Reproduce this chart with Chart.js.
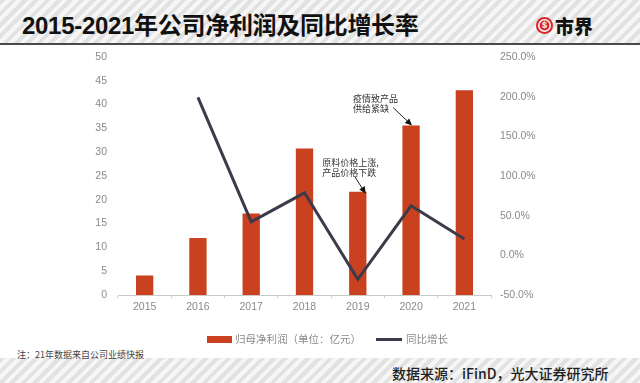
<!DOCTYPE html>
<html><head><meta charset="utf-8">
<script src="https://cdn.jsdelivr.net/npm/chart.js@4/dist/chart.umd.min.js"></script>
<style>
html,body{margin:0;padding:0;background:#fff;}
#wrap{position:relative;width:640px;height:383px;overflow:hidden;background:#fff;font-family:"Noto Sans CJK SC","Liberation Sans",sans-serif;}
.stripe{position:absolute;left:0;width:640px;background:repeating-linear-gradient(135deg,#e2e2e2 0px,#e2e2e2 4px,#f6f6f6 4px,#f6f6f6 8px);}
#hdr{top:0;height:43px;border-bottom:2px solid #4a4a4a;}
#ftr{top:358px;height:25px;}
#title{position:absolute;left:22px;top:8px;font-size:24px;font-weight:bold;color:#111;white-space:nowrap;line-height:32px;font-family:"Liberation Sans","Noto Sans CJK SC",sans-serif;letter-spacing:-0.3px;}
#title span{font-family:"Noto Sans CJK SC",sans-serif;}
#logo{position:absolute;left:536px;top:17px;width:17px;height:17px;border-radius:50%;background:#d8262c;box-shadow:inset 0 0 0 2px #d8262c, inset 0 0 0 3.5px #fff;color:#fff;font:bold 9px "Liberation Sans",sans-serif;text-align:center;line-height:17px;}
#logotxt{position:absolute;left:555px;top:12px;font-size:19px;font-weight:900;color:#111;line-height:28px;font-family:"Noto Sans CJK SC",sans-serif;}
#note{position:absolute;left:17px;top:348px;font-size:9px;color:#444;white-space:nowrap;line-height:14px;}
#src{position:absolute;left:392px;top:363px;font-size:14px;font-weight:500;color:#1e1e1e;white-space:nowrap;line-height:20px;}
canvas{position:absolute;left:0;top:0;}
</style></head>
<body>
<div id="wrap">
<div id="hdr" class="stripe"></div>
<div id="ftr" class="stripe"></div>
<div id="title">2015-2021<span>年公司净利润及同比增长率</span></div>
<div id="logo">$</div>
<div id="logotxt">市界</div>
<div id="note">注：21年数据来自公司业绩快报</div>
<div id="src">数据来源：iFinD，光大证券研究所</div>
<canvas id="c" width="640" height="383"></canvas>
</div>
<script>
const categories = ['2015','2016','2017','2018','2019','2020','2021'];
const netProfit = [4.1, 12.0, 17.1, 30.8, 21.7, 35.6, 43.0];
const yoyGrowth = [null, 199.0, 42.3, 78.8, -30.2, 62.5, 20.5];
const leftTicks = [0,5,10,15,20,25,30,35,40,45,50];
const rightTicks = [-50,0,50,100,150,200,250];
const barLabel = '归母净利润（单位：亿元）';
const lineLabel = '同比增长';
const noteA = ['疫情致产品','供给紧缺'];
const noteB = ['原料价格上涨,','产品价格下跌'];

const BAR = '#c9411e', LINE = '#3e3a4a';

function arrow(ctx, x0, y0, x1, y1){
  ctx.save();
  ctx.strokeStyle = '#222'; ctx.fillStyle = '#111'; ctx.lineWidth = 1;
  const a = Math.atan2(y1-y0, x1-x0), L = 7, W = 3.2;
  const bx = x1 - L*Math.cos(a), by = y1 - L*Math.sin(a);
  ctx.beginPath(); ctx.moveTo(x0,y0); ctx.lineTo(bx,by); ctx.stroke();
  ctx.beginPath(); ctx.moveTo(x1,y1);
  ctx.lineTo(bx + W*Math.sin(a), by - W*Math.cos(a));
  ctx.lineTo(bx - W*Math.sin(a), by + W*Math.cos(a));
  ctx.closePath(); ctx.fill();
  ctx.restore();
}

const extras = {
  id:'extras',
  afterDatasetsDraw(chart){
    const ctx = chart.ctx, xs = chart.scales.x, yl = chart.scales.y;
    ctx.save();
    ctx.font = '9px "Noto Sans CJK SC", sans-serif';
    ctx.fillStyle = '#333'; ctx.textBaseline = 'middle'; ctx.textAlign = 'left';
    let tx = xs.getPixelForValue(5) + 1, ty = yl.getPixelForValue(netProfit[5]);
    arrow(ctx, tx-19, ty-18, tx, ty);
    noteA.forEach((t,i)=>ctx.fillText(t, tx-59, ty-27+i*10.5));
    tx = xs.getPixelForValue(4) + 8; ty = yl.getPixelForValue(netProfit[4]) + 2;
    arrow(ctx, tx-11, ty-17, tx, ty);
    noteB.forEach((t,i)=>ctx.fillText(t, tx-43.5, ty-31.5+i*10.5));
    ctx.font = '10.5px "Noto Sans CJK SC", sans-serif';
    ctx.fillStyle = BAR; ctx.fillRect(207, 336, 25, 7);
    ctx.fillStyle = '#8a8a8a'; ctx.fillText(barLabel, 235, 339.5);
    ctx.strokeStyle = LINE; ctx.lineWidth = 3;
    ctx.beginPath(); ctx.moveTo(376, 339.5); ctx.lineTo(402, 339.5); ctx.stroke();
    ctx.fillStyle = '#8a8a8a'; ctx.fillText(lineLabel, 406, 339.5);
    ctx.restore();
  }
};

new Chart(document.getElementById('c'), {
  data:{
    labels: categories,
    datasets:[
      {type:'line', label:lineLabel, data:yoyGrowth, yAxisID:'y1', borderColor:LINE, backgroundColor:LINE,
       borderWidth:3, pointRadius:0, tension:0, order:0, spanGaps:false},
      {type:'bar', label:barLabel, data:netProfit, yAxisID:'y', backgroundColor:BAR,
       barPercentage:0.325, categoryPercentage:1, order:1}
    ]
  },
  options:{
    responsive:false, animation:false,
    layout:{padding:{top:57,left:0,right:0,bottom:0}, autoPadding:false},
    plugins:{legend:{display:false}, tooltip:{enabled:false}, title:{display:false}},
    scales:{
      x:{
        grid:{display:true, drawOnChartArea:false, drawTicks:true, tickLength:3, color:'#d0d0d0', offset:true},
        border:{display:true, color:'#c8c8c8', width:1},
        ticks:{color:'#8a8a8a', font:{size:10.5, family:'"Liberation Sans", sans-serif'}, padding:3},
        afterFit(s){ s.height = 88; }
      },
      y:{
        position:'left', min:0, max:50,
        afterBuildTicks(s){ s.ticks = leftTicks.map(v=>({value:v})); },
        grid:{display:false, drawTicks:false}, border:{display:false},
        ticks:{color:'#8a8a8a', font:{size:10.5, family:'"Liberation Sans", sans-serif'}, padding:11},
        afterFit(s){ s.width = 118; }
      },
      y1:{
        position:'right', min:-50, max:250,
        afterBuildTicks(s){ s.ticks = rightTicks.map(v=>({value:v})); },
        grid:{display:false, drawTicks:false}, border:{display:false},
        ticks:{color:'#8a8a8a', font:{size:10.5, family:'"Liberation Sans", sans-serif'}, padding:9,
               callback:v=>v.toFixed(1)+'%'},
        afterFit(s){ s.width = 149; }
      }
    }
  },
  plugins:[extras]
});
</script>
</body></html>
